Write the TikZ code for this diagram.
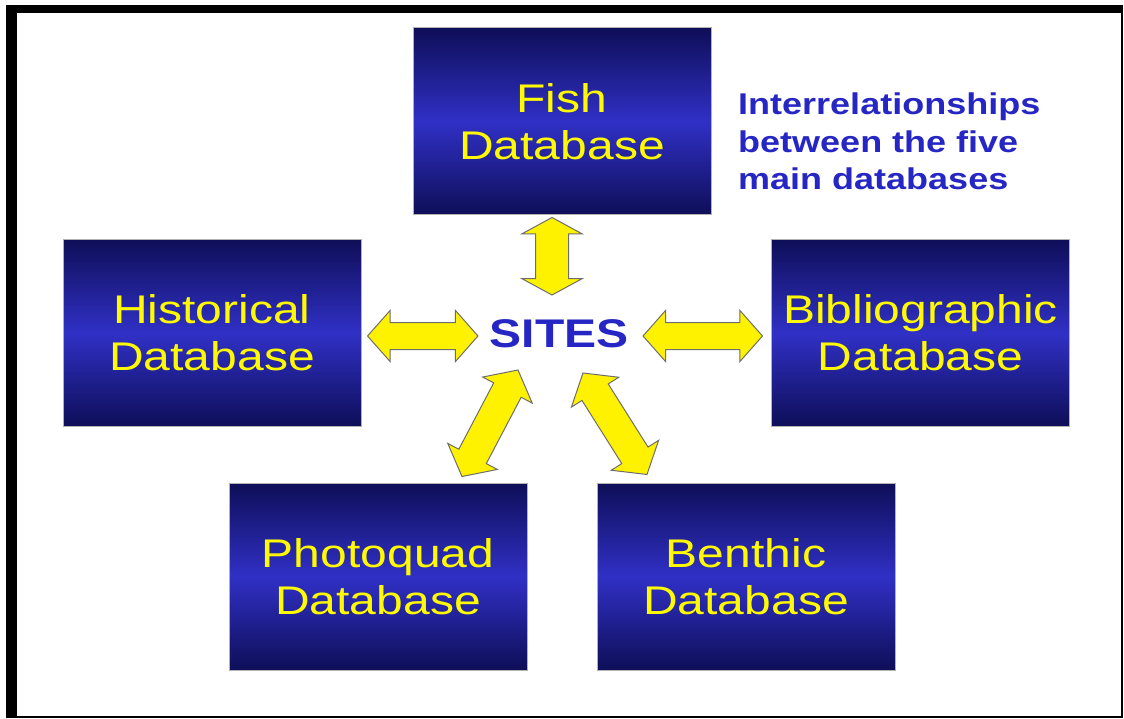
\documentclass[tikz,border=0pt]{standalone}
\usepackage{fontspec}
\usetikzlibrary{shapes.arrows,calc}
\newfontfamily\boxfont[FakeStretch=1.2]{Liberation Sans}
\definecolor{navydark}{RGB}{14,14,88}
\definecolor{navymid}{RGB}{48,48,198}
\definecolor{boxyellow}{RGB}{255,250,0}
\definecolor{sitesblue}{RGB}{38,38,196}
\definecolor{arrowline}{RGB}{110,110,110}
\tikzset{
  dbbox/.style={rectangle, draw=gray!60, line width=1pt, top color=navydark,
    bottom color=navydark, middle color=navymid, text=boxyellow,
    minimum width=298, minimum height=187, align=center,
    font=\boxfont\fontsize{40}{47}\selectfont},
  dblarrow/.style={double arrow, draw=arrowline, fill=yellow, line width=1pt,
    inner xsep=0pt, inner ysep=13pt, minimum width=0pt,
    double arrow head extend=12pt, double arrow tip angle=97}
}
\newcommand\linkarrow[3][]{%
  \path let \p1=(#2), \p2=(#3), \n1={atan2(\y2-\y1,\x2-\x1)},
    \n2={veclen(\x2-\x1,\y2-\y1)} in
    node[dblarrow,#1,rotate=\n1,minimum height=\n2] at ($(#2)!0.5!(#3)$) {};}

\begin{document}
\begin{tikzpicture}[x=1pt,y=-1pt]
\tikzstyle{every node}+=[inner sep=0pt]
\useasboundingbox (0,0) rectangle (1124,719);

% frame
\fill [black] (6,5) rectangle (1123,718);
\fill [white] (17,13) rectangle (1121,716);

\node [dbbox] (fish) at (562,121.5) {Fish\\Database};
\node [dbbox] (hist) at (212,333) {Historical\\Database};
\node [dbbox] (bib) at (920.5,333) {Bibliographic\\Database};
\node [dbbox] (photo) at (378,576.5) {Photoquad\\Database};
\node [dbbox] (benth) at (746,576.5) {Benthic\\Database};

\node [text=sitesblue, font=\boxfont\bfseries\fontsize{40}{46}\selectfont] (sites) at (559,334) {SITES};
\node [anchor=base west, align=left, text=sitesblue, font=\boxfont\bfseries\fontsize{30}{37.5}\selectfont] (note) at (738,190)
  {Interrelationships\\between the five\\main databases};

\coordinate (fishS) at ($(fish.south)+(-10,2)$);
\coordinate (sitesN) at ($(sites)+(-7,-39)$);
\coordinate (histE) at ($(hist.east)+(6,3)$);
\coordinate (sitesW) at ($(sites)+(-81,2)$);
\coordinate (bibW) at ($(bib.west)+(-8.5,3)$);
\coordinate (sitesE) at ($(sites)+(84,2)$);
\coordinate (photoN) at ($(photo.north)+(84,-6)$);
\coordinate (sitesSW) at ($(sites)+(-41,36)$);
\coordinate (benthN) at ($(benth.north)+(-99,-8)$);
\coordinate (sitesSE) at ($(sites)+(24,39)$);

\linkarrow[inner ysep=16pt, double arrow head extend=13.5pt, double arrow tip angle=123]{fishS}{sitesN}
\linkarrow{histE}{sitesW}
\linkarrow{bibW}{sitesE}
\linkarrow[inner ysep=15pt, double arrow head extend=12.5pt, double arrow tip angle=102]{photoN}{sitesSW}
\linkarrow[inner ysep=15pt, double arrow head extend=12.5pt, double arrow tip angle=102]{benthN}{sitesSE}
\end{tikzpicture}
\end{document}
